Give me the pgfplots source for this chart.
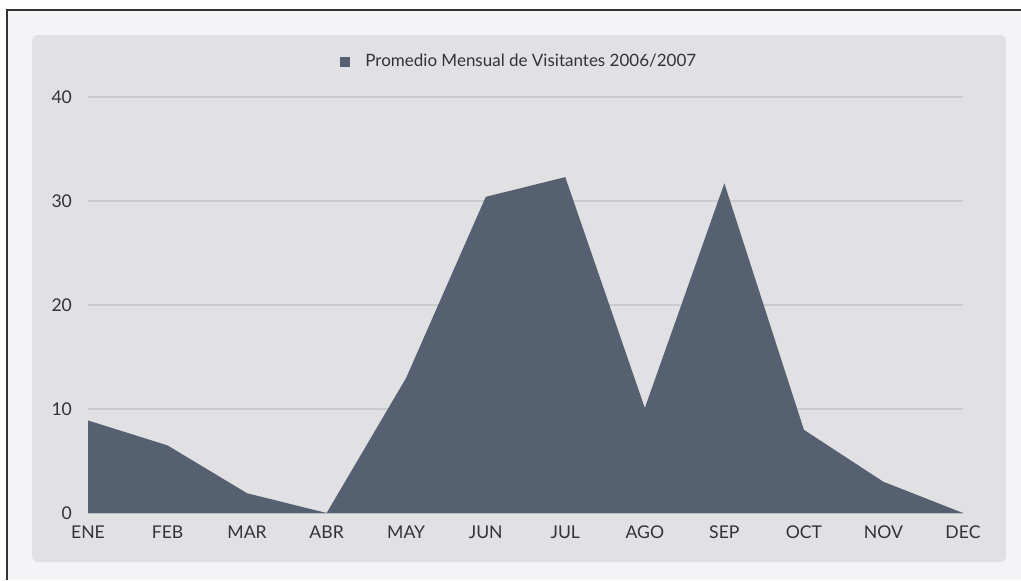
\documentclass[border=0pt]{standalone}
\usepackage{pgfplots}
\pgfplotsset{compat=1.18}
\usepackage{fontspec}
\setmainfont{Lato}

\definecolor{areafill}{HTML}{556170}
\definecolor{panel}{HTML}{E1E1E3}
\definecolor{outerbg}{HTML}{F4F4F6}
\definecolor{gridc}{HTML}{CBCBCE}
\definecolor{txt}{HTML}{333335}

\pgfplotstableread{
x y
0 8.9
1 6.5
2 1.9
3 0
4 13
5 30.4
6 32.3
7 10.1
8 31.7
9 8
10 3
11 0
}\visitas

\begin{document}
\begin{tikzpicture}
  % background, frame and panel (1px = 0.5pt)
  \fill[white] (0,0) rectangle (510.5pt,290pt);
  \fill[outerbg] (3.5pt,0) rectangle (510.5pt,285pt);
  \draw[black!80, line width=0.8pt] (3.5pt,0) -- (3.5pt,285pt) -- (510.5pt,285pt);
  \fill[panel, rounded corners=3pt] (16pt,9pt) rectangle (503pt,272.5pt);

  \begin{axis}[
      at={(44pt,33.5pt)}, anchor=south west,
      scale only axis,
      width=437.5pt, height=208pt,
      xmin=0, xmax=11,
      ymin=0, ymax=40,
      axis line style={draw=none},
      xtick={0,...,11},
      xticklabels={ENE,FEB,MAR,ABR,MAY,JUN,JUL,AGO,SEP,OCT,NOV,DEC},
      ytick={0,10,20,30,40},
      ymajorgrids,
      grid style={gridc, line width=0.6pt},
      major tick length=0pt,
      tick label style={font=\fontsize{8.8}{10}\selectfont, text=txt},
      /pgf/number format/assume math mode=true,
      yticklabel style={xshift=-4.5pt},
      xticklabel style={yshift=-3pt},
      legend style={
          at={(0.288,1.084)}, anchor=west,
          draw=none, fill=none, inner sep=0pt,
          font=\fontsize{8.5}{10}\selectfont, text=txt,
        },
      legend image code/.code={
          \fill[areafill] (0pt,-2.5pt) rectangle (5pt,2.5pt);
          \path (10.5pt,0pt);
        },
      clip=false,
    ]
    \addplot[fill=areafill, draw=none] table[x=x, y=y] {\visitas} \closedcycle;
    \addlegendentry{Promedio Mensual de Visitantes 2006/2007}
  \end{axis}
  \pgfresetboundingbox
  \useasboundingbox (0,0) rectangle (510.5pt,290pt);
\end{tikzpicture}
\end{document}
